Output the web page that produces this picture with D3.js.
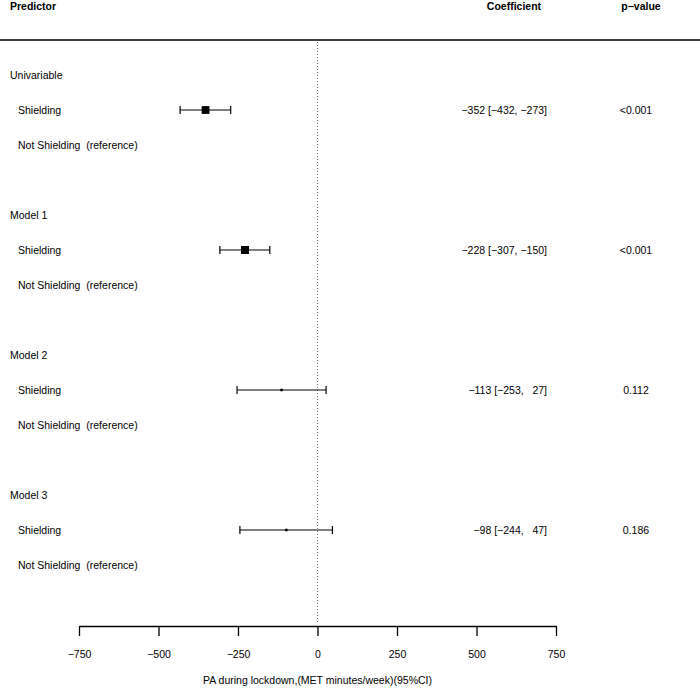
<!DOCTYPE html>
<html>
<head>
<meta charset="utf-8">
<script src="https://cdn.jsdelivr.net/npm/d3@7"></script>
<style>
  body { margin: 0; background: #fff; }
  text { font-family: "Liberation Sans", Arial, sans-serif; fill: #000; }
</style>
</head>
<body>
<div id="forest"></div>
<script>
// model groups and the rows within each
var models = ["Univariable", "Model 1", "Model 2", "Model 3"];
var estimates = [-352, -228, -113, -98];
var lowerCI = [-432, -307, -253, -244];
var upperCI = [-273, -150, 27, 47];
var coefLabels = ["\u2212352 [\u2212432, \u2212273]", "\u2212228 [\u2212307, \u2212150]",
  "\u2212113 [\u2212253,   27]", "\u221298 [\u2212244,   47]"];
var pLabels = ["<0.001", "<0.001", "0.112", "0.186"];
var tickValues = [-750, -500, -250, 0, 250, 500, 750];
var tickLabels = ["\u2212750", "\u2212500", "\u2212250", "0", "250", "500", "750"];
var axisTitle = "PA during lockdown,(MET minutes/week)(95%CI)";

var width = 700, height = 690;
var rowH = 35, firstRow = 75;

var svg = d3.select("#forest").append("svg")
  .attr("width", width)
  .attr("height", height);

// x scale for the plot area
var xScale = d3.scaleLinear()
  .domain([-750, 750])
  .range([79, 556]);

// row index -> y position (3 rows per model + 1 blank)
function rowY(i) { return firstRow + i * rowH; }

// box size from inverse variance
var weights = lowerCI.map(function (l, i) { return 1 / Math.pow(upperCI[i] - l, 2); });
var sizeScale = d3.scaleLinear()
  .domain([0, d3.max(weights)])
  .range([0, 8]);

// header
svg.append("text").attr("x", 10).attr("y", 10)
  .style("font-weight", "bold").style("font-size", "10.5px")
  .text("Predictor");
svg.append("text").attr("x", 514).attr("y", 10)
  .attr("text-anchor", "middle")
  .style("font-weight", "bold").style("font-size", "10.5px")
  .text("Coefficient");
svg.append("text").attr("x", 641).attr("y", 10)
  .attr("text-anchor", "middle")
  .style("font-weight", "bold").style("font-size", "10.5px")
  .text("p\u2212value");

svg.append("line")
  .attr("x1", 0).attr("x2", width)
  .attr("y1", 40).attr("y2", 40)
  .attr("stroke", "#000").attr("stroke-width", 1.3);

// zero reference line
svg.append("line")
  .attr("x1", xScale(0)).attr("x2", xScale(0))
  .attr("y1", 42).attr("y2", 624)
  .attr("stroke", "#777").attr("stroke-width", 1)
  .attr("stroke-dasharray", "1,2");

// rows
models.forEach(function (m, i) {
  var base = i * 4;
  var yHead = rowY(base), yShield = rowY(base + 1), yRef = rowY(base + 2);

  svg.append("text").attr("x", 10).attr("y", yHead).attr("dy", "0.35em")
    .style("font-size", "10.5px").text(m);
  svg.append("text").attr("x", 18).attr("y", yShield).attr("dy", "0.35em")
    .style("font-size", "10.5px").text("Shielding");
  svg.append("text").attr("x", 18).attr("y", yRef).attr("dy", "0.35em")
    .style("font-size", "10.5px").style("white-space", "pre")
    .text("Not Shielding  (reference)");

  // coefficient and p-value columns
  svg.append("text").attr("x", 547).attr("y", yShield).attr("dy", "0.35em")
    .attr("text-anchor", "end")
    .style("font-size", "10.5px").style("white-space", "pre")
    .text(coefLabels[i]);
  svg.append("text").attr("x", 636).attr("y", yShield).attr("dy", "0.35em")
    .attr("text-anchor", "middle")
    .style("font-size", "10.5px")
    .text(pLabels[i]);

  // CI line with end caps
  var g = svg.append("g");
  g.append("line")
    .attr("x1", xScale(lowerCI[i])).attr("x2", xScale(upperCI[i]))
    .attr("y1", yShield).attr("y2", yShield)
    .attr("stroke", "#000").attr("stroke-width", 1.2);
  [lowerCI[i], upperCI[i]].forEach(function (v) {
    g.append("line")
      .attr("x1", xScale(v)).attr("x2", xScale(v))
      .attr("y1", yShield - 4).attr("y2", yShield + 4)
      .attr("stroke", "#000").attr("stroke-width", 1.2);
  });

  var s = Math.max(2.5, sizeScale(weights[i]));
  g.append("rect")
    .attr("x", xScale(estimates[i]) - s / 2)
    .attr("y", yShield - s / 2)
    .attr("width", s).attr("height", s)
    .attr("fill", "#000");
});

// x axis
var xAxis = d3.axisBottom(xScale)
  .tickValues(tickValues)
  .tickSize(10)
  .tickSizeOuter(0)
  .tickPadding(15)
  .tickFormat(function (d, i) { return tickLabels[i]; });

var axisG = svg.append("g")
  .attr("transform", "translate(0,626)")
  .call(xAxis);
axisG.select(".domain").attr("stroke", "#000").attr("stroke-width", 1.3);
axisG.selectAll(".tick line").attr("stroke", "#000").attr("stroke-width", 1.3);
axisG.selectAll(".tick text")
  .style("font-family", "Liberation Sans, Arial, sans-serif")
  .style("font-size", "10.5px")
  .attr("fill", "#000");

svg.append("text")
  .attr("x", xScale(0)).attr("y", 684)
  .attr("text-anchor", "middle")
  .style("font-size", "10.5px")
  .text(axisTitle);
</script>
</body>
</html>
